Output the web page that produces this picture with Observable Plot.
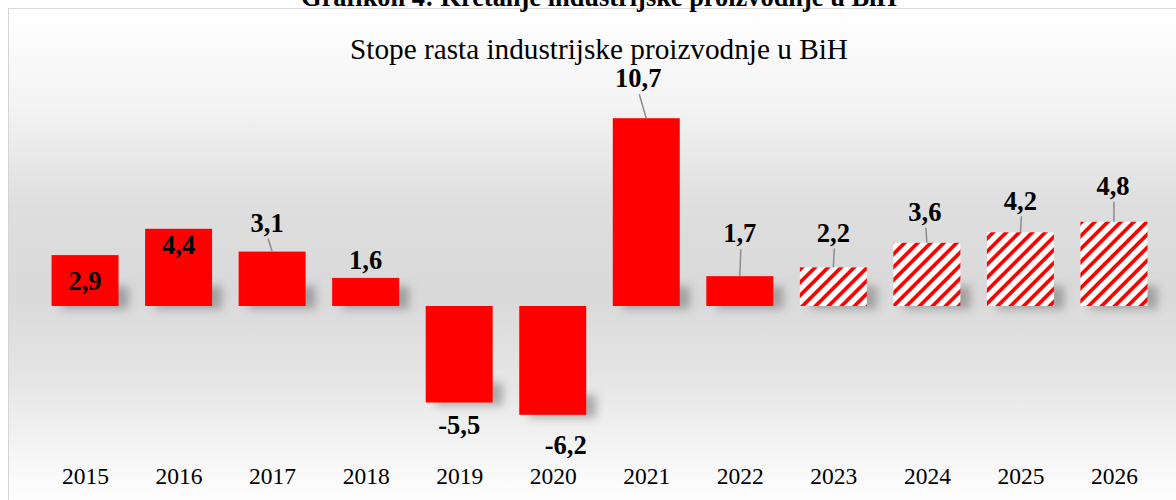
<!DOCTYPE html>
<html>
<head>
<meta charset="utf-8">
<script src="https://cdn.jsdelivr.net/npm/d3@7"></script>
<script src="https://cdn.jsdelivr.net/npm/@observablehq/plot@0.6"></script>
<style>
  html, body { margin: 0; padding: 0; background: #fff; }
  #wrap { position: relative; width: 1176px; height: 500px; overflow: hidden;
          font-family: "Liberation Serif", "Times New Roman", serif; color: #000; }
  #box { position: absolute; left: 8px; top: 8px; width: 1200px; height: 520px;
         border-left: 1.5px solid #d4d4d4; border-top: 1.5px solid #d9d9d9;
         background: linear-gradient(to bottom, #ffffff 0%, #f4f4f4 18%, #dedede 38%, #d9d9d9 55%, #e6e6e6 72%, #f6f6f6 86%, #ffffff 96%); }
  .ttl { position: absolute; left: 0; width: 1198px; text-align: center; line-height: 1; white-space: nowrap; }
  #title { font-weight: bold; }
  #chart { position: absolute; left: 0; top: 0; }
</style>
</head>
<body>
<div id="wrap">
  <div id="box"></div>
  <div id="title" class="ttl">Grafikon 4: Kretanje industrijske proizvodnje u BiH</div>
  <div id="subtitle" class="ttl">Stope rasta industrijske proizvodnje u BiH</div>
  <div id="chart"></div>
</div>
<script>
// ---- data ----
const years = ["2015","2016","2017","2018","2019","2020","2021","2022","2023","2024","2025","2026"];
const growth = [2.9, 4.4, 3.1, 1.6, -5.5, -6.2, 10.7, 1.7, 2.2, 3.6, 4.2, 4.8];
const forecastYears = ["2023","2024","2025","2026"];

// ---- label placement (style only): offset in px from the bar end ----
const labelPlacement = [
  {mode: "center"},
  {mode: "insideTop", dy: 16},
  {dy: -29, dx: -5, leader: true},
  {dy: -18},
  {dy: 22},
  {dy: 30, dx: 13},
  {dy: -40, dx: -8, leader: true},
  {dy: -43, leader: true},
  {dy: -35, leader: true},
  {dy: -31, dx: -2, leader: true},
  {dy: -32, leader: true},
  {dy: -36, dx: -1, leader: true}
];

const data = years.map((y, i) => ({year: y, value: growth[i], forecast: forecastYears.includes(y), place: labelPlacement[i]}));
const fmt = v => String(v).replace(".", ",");

// fit title fonts to the reference widths
function fitFont(el, weight, target) {
  const c = document.createElement("canvas").getContext("2d");
  c.font = `${weight} 20px "Liberation Serif"`;
  const w = c.measureText(el.textContent).width;
  return 20 * target / w;
}
const tEl = document.getElementById("title");
const sEl = document.getElementById("subtitle");
const tSize = fitFont(tEl, "bold", 596);
const sSize = fitFont(sEl, "normal", 498);
tEl.style.fontSize = tSize + "px";
tEl.style.top = (6 - 0.8375 * tSize) + "px";
sEl.style.fontSize = sSize + "px";
sEl.style.top = (59 - 0.8375 * sSize) + "px";

const k = 17.55, zeroY = 306, H = 500, W = 1176;
const plot = Plot.plot({
  width: W, height: H,
  marginTop: zeroY - 12 * k,
  marginBottom: H - (zeroY + 9 * k),
  marginLeft: 25, marginRight: 2,
  style: {background: "transparent", fontFamily: '"Liberation Serif", serif', fontSize: "23.5px", color: "#000", overflow: "visible"},
  x: {domain: years, padding: 0.284, round: false, tickSize: 0, tickPadding: 3, label: null},
  y: {domain: [-9, 12], axis: null},
  marks: [
    Plot.barY(data, {x: "year", y1: d => Math.min(0, d.value), y2: d => Math.min(0, d.value) + 1.3,
                     fill: "#4a4a4a", fillOpacity: 0.4, dx: 10, dy: 3}),
    Plot.barY(data.filter(d => !d.forecast), {x: "year", y: "value", fill: "#ff0000"}),
    Plot.barY(data.filter(d => d.forecast), {x: "year", y: "value", fill: "url(#hatch)"})
  ]
});
document.getElementById("chart").appendChild(plot);

const svg = d3.select(plot);
const defs = svg.insert("defs", ":first-child");
const pat = defs.append("pattern").attr("id", "hatch").attr("patternUnits", "userSpaceOnUse")
  .attr("width", 9.2).attr("height", 9.2).attr("patternTransform", "rotate(45)");
pat.append("rect").attr("width", 9.2).attr("height", 9.2).attr("fill", "#fff");
pat.append("rect").attr("width", 3.7).attr("height", 9.2).attr("fill", "#ff0000");
defs.append("filter").attr("id", "sblur").attr("x", "-50%").attr("y", "-100%").attr("width", "200%").attr("height", "300%")
  .append("feGaussianBlur").attr("stdDeviation", 4.5);
// blur the shadow mark (the first bar group, drawn in grey)
svg.selectAll("g").filter(function() { return this.getAttribute("fill") === "#4a4a4a"; })
  .attr("filter", "url(#sblur)");

// value labels and leader lines, positioned through the plot's own scales
const sx = plot.scale("x"), sy = plot.scale("y");
const bw = sx.bandwidth;
const g = svg.append("g").attr("aria-label", "value labels");
data.forEach(d => {
  const cx = sx.apply(d.year) + bw / 2;
  const end = sy.apply(d.value), base = sy.apply(0);
  const p = d.place;
  let ly;
  if (p.mode === "center") ly = (end + base) / 2;
  else ly = end + p.dy;
  const lx = cx + (p.dx || 0);
  if (p.leader) {
    g.append("line").attr("x1", lx + 1).attr("y1", ly + 16).attr("x2", cx).attr("y2", end)
      .attr("stroke", "#8c8c8c").attr("stroke-width", 1.5);
  }
  g.append("text").attr("x", lx).attr("y", ly).attr("dy", "0.35em")
    .attr("text-anchor", "middle").attr("font-weight", "bold").attr("font-size", 26.5)
    .attr("font-family", '"Liberation Serif", serif').attr("fill", "#000")
    .text(fmt(d.value));
});
</script>
</body>
</html>
